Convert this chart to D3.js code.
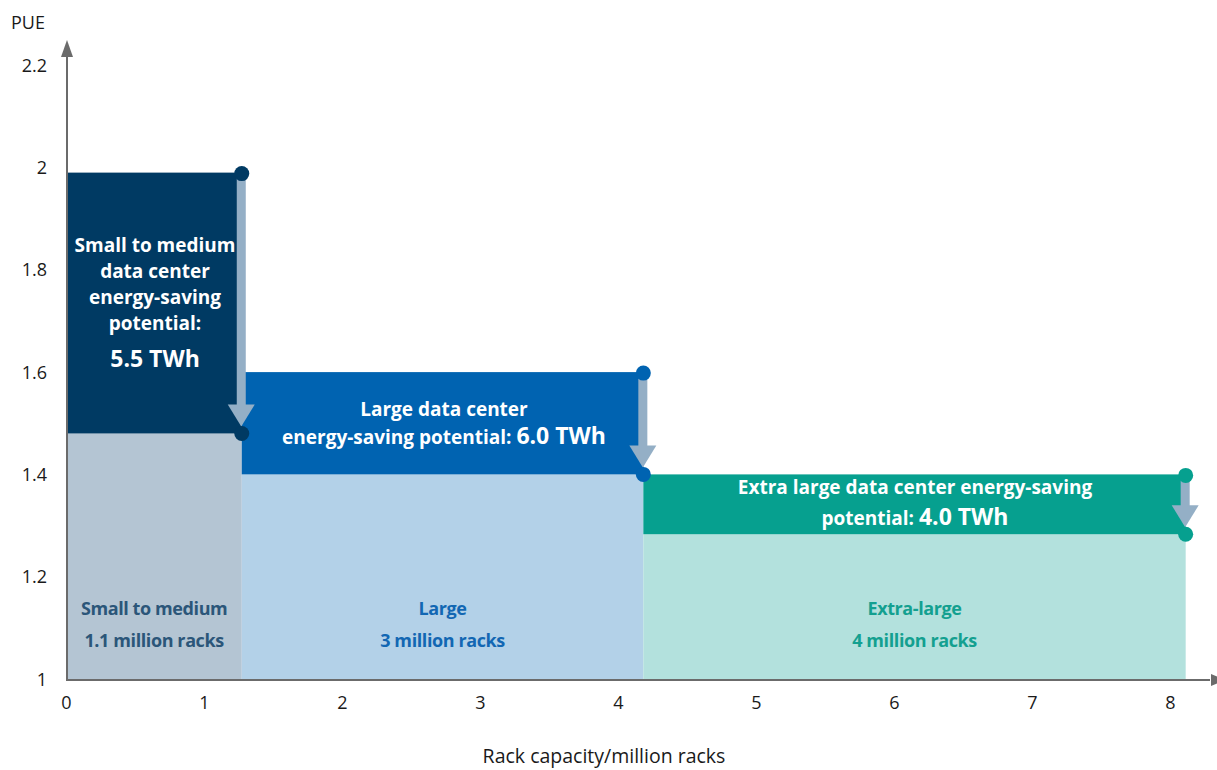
<!DOCTYPE html>
<html>
<head>
<meta charset="utf-8">
<script src="https://cdn.jsdelivr.net/npm/d3@7"></script>
<style>
  html, body { margin: 0; padding: 0; background: #fff; }
  svg { display: block; font-family: "Open Sans", Lato, sans-serif; }
</style>
</head>
<body>
<svg id="chart" width="1217" height="770"></svg>
<script>
// ---- data ----
const categories = ["Small to medium", "Large", "Extra-large"];
const rackLabels = ["1.1 million racks", "3 million racks", "4 million racks"];
const xStart = [0, 1.27, 4.18];
const xEnd = [1.27, 4.18, 8.11];
const pueBefore = [1.99, 1.60, 1.40];
const pueAfter = [1.48, 1.40, 1.283];
const savingLines = [
  ["Small to medium", "data center", "energy-saving", "potential:"],
  ["Large data center", "energy-saving potential: "],
  ["Extra large data center energy-saving", "potential: "]
];
const savingValues = ["5.5 TWh", "6.0 TWh", "4.0 TWh"];
const xTicks = [0, 1, 2, 3, 4, 5, 6, 7, 8];
const yTicks = [1, 1.2, 1.4, 1.6, 1.8, 2, 2.2];
const xTitle = "Rack capacity/million racks";
const yTitle = "PUE";

// ---- styles ----
const darkColors = ["#003a63", "#0063b1", "#06a08f"];
const lightColors = ["#b4c5d3", "#b3d1e8", "#b3e1dd"];
const labelColors = ["#2b5679", "#1267b3", "#13a090"];
const arrowColor = "#94afc6";
const axisColor = "#6b6b6b";

const svg = d3.select("#chart");
const x = d3.scaleLinear().domain([0, 8]).range([66.5, 1170.5]);
const y = d3.scaleLinear().domain([1, 2.2]).range([679, 65.2]);

// light blocks (bottom part)
svg.append("g").selectAll("rect").data(categories).join("rect")
  .attr("x", (d, i) => x(xStart[i]))
  .attr("width", (d, i) => x(xEnd[i]) - x(xStart[i]))
  .attr("y", (d, i) => y(pueAfter[i]))
  .attr("height", (d, i) => y(1) - y(pueAfter[i]))
  .attr("fill", (d, i) => lightColors[i]);

// dark blocks (saving part)
svg.append("g").selectAll("rect").data(categories).join("rect")
  .attr("x", (d, i) => x(xStart[i]))
  .attr("width", (d, i) => x(xEnd[i]) - x(xStart[i]))
  .attr("y", (d, i) => y(pueBefore[i]))
  .attr("height", (d, i) => y(pueAfter[i]) - y(pueBefore[i]))
  .attr("fill", (d, i) => darkColors[i]);

// arrows
const ag = svg.append("g");
categories.forEach((c, i) => {
  const cx = x(xEnd[i]) - 0.5;
  const yt = y(pueBefore[i]);
  const yb = y(pueAfter[i]);
  const tip = yb - 7;
  const headH = 22;
  ag.append("rect")
    .attr("x", cx - 4.5).attr("width", 9)
    .attr("y", yt).attr("height", Math.max(0, tip - headH - yt + 1))
    .attr("fill", arrowColor);
  ag.append("path")
    .attr("d", `M${cx - 13.5},${tip - headH} L${cx + 13.5},${tip - headH} L${cx},${tip} Z`)
    .attr("fill", arrowColor);
  ag.append("circle").attr("cx", cx + 0.5).attr("cy", yt + 1).attr("r", 7.5).attr("fill", darkColors[i]);
  ag.append("circle").attr("cx", cx + 0.5).attr("cy", yb).attr("r", 7.5).attr("fill", darkColors[i]);
});

// axes
const axG = svg.append("g");
axG.append("line").attr("x1", 67).attr("x2", 67).attr("y1", y(1) + 1).attr("y2", 52)
  .attr("stroke", axisColor).attr("stroke-width", 2);
axG.append("path").attr("d", `M61,57 L73,57 L67,40 Z`).attr("fill", axisColor);
axG.append("line").attr("x1", 66).attr("x2", 1210).attr("y1", y(1) + 1).attr("y2", y(1) + 1)
  .attr("stroke", axisColor).attr("stroke-width", 2);
axG.append("path").attr("d", `M1211,${y(1) + 1 - 6} L1211,${y(1) + 1 + 6} L1225,${y(1) + 1} Z`).attr("fill", axisColor);

// tick labels
svg.append("g").selectAll("text").data(xTicks).join("text")
  .attr("x", d => x(d)).attr("y", 709)
  .attr("text-anchor", "middle").attr("font-size", 18).attr("fill", "#1a1a1a")
  .text(d => d);
svg.append("g").selectAll("text").data(yTicks).join("text")
  .attr("x", 47).attr("y", d => y(d) + 6.5)
  .attr("text-anchor", "end").attr("font-size", 18).attr("fill", "#1a1a1a")
  .text(d => d3.format("~g")(d));

svg.append("text").attr("x", 11).attr("y", 29).attr("font-size", 18).attr("fill", "#1a1a1a").text(yTitle);
svg.append("text").attr("x", 604).attr("y", 763).attr("text-anchor", "middle")
  .attr("font-size", 19.5).attr("fill", "#1a1a1a").text(xTitle);

// bottom category labels
const cl = svg.append("g").attr("font-weight", 700).attr("font-size", 18)
  .attr("letter-spacing", -0.4).attr("text-anchor", "middle");
categories.forEach((c, i) => {
  const cx = (x(xStart[i]) + x(xEnd[i])) / 2;
  cl.append("text").attr("x", cx).attr("y", 615).attr("fill", labelColors[i]).text(c);
  cl.append("text").attr("x", cx).attr("y", 647).attr("fill", labelColors[i]).text(rackLabels[i]);
});

// saving labels
const sl = svg.append("g").attr("font-weight", 700).attr("fill", "#fff").attr("text-anchor", "middle");
// small to medium
{
  const cx = 155;
  savingLines[0].forEach((t, k) => {
    sl.append("text").attr("x", cx).attr("y", 252 + k * 26).attr("font-size", 19).text(t);
  });
  sl.append("text").attr("x", cx).attr("y", 367).attr("font-size", 23).text(savingValues[0]);
}
// large
{
  const cx = 444;
  sl.append("text").attr("x", cx).attr("y", 416).attr("font-size", 19).text(savingLines[1][0]);
  const t = sl.append("text").attr("x", cx).attr("y", 444).attr("font-size", 19);
  t.append("tspan").text(savingLines[1][1]);
  t.append("tspan").attr("font-size", 23).text(savingValues[1]);
}
// extra large
{
  const cx = 915;
  sl.append("text").attr("x", cx).attr("y", 494).attr("font-size", 19).text(savingLines[2][0]);
  const t = sl.append("text").attr("x", cx).attr("y", 525).attr("font-size", 19);
  t.append("tspan").text(savingLines[2][1]);
  t.append("tspan").attr("font-size", 23).text(savingValues[2]);
}
</script>
</body>
</html>
